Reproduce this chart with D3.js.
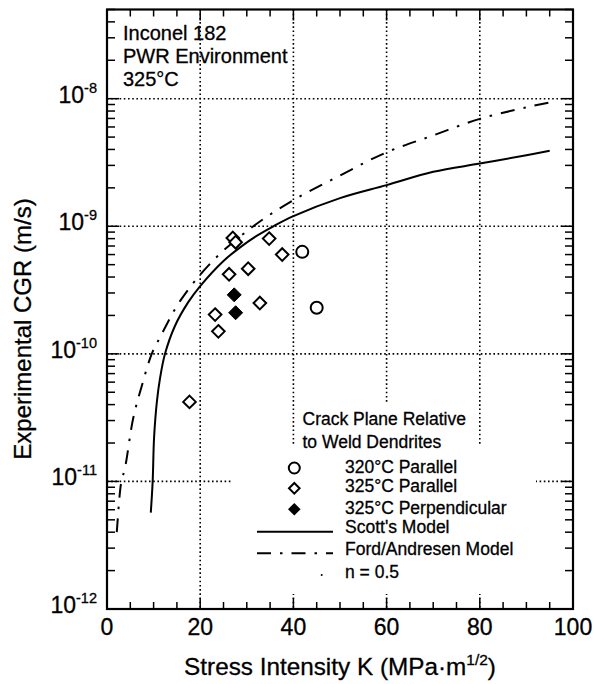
<!DOCTYPE html>
<html><head><meta charset="utf-8">
<script src="https://cdn.jsdelivr.net/npm/d3@7"></script>
<style>body{margin:0;background:#fff}svg{display:block}text{font-family:"Liberation Sans",Arial,Helvetica,sans-serif;fill:#000;stroke:#000;stroke-width:0.3px}</style>
</head><body><svg id="c" width="595" height="684"></svg>
<script>
// ---- data ----
const xTicks = [0, 20, 40, 60, 80, 100];
const xMinor = [5, 10, 15, 25, 30, 35, 45, 50, 55, 65, 70, 75, 85, 90, 95];
const xGrid = [20, 40, 60, 80];
const yDecades = [-12, -11, -10, -9, -8];
const yGrid = [1e-11, 1e-10, 1e-9, 1e-8];
const infoLines = ["Inconel 182", "PWR Environment", "325°C"];
const legendTitle = ["Crack Plane Relative", "to Weld Dendrites"];
const legendLabels = ["320°C Parallel", "325°C Parallel", "325°C Perpendicular", "Scott's Model", "Ford/Andresen Model", "n = 0.5"];

const par320K = [41.9, 45.0];
const par320CGR = [6.3e-10, 2.3e-10];
const par325K = [27.0, 27.6, 34.8, 37.6, 30.3, 26.2, 32.8, 23.2, 23.9, 17.7];
const par325CGR = [8.1e-10, 7.5e-10, 8.0e-10, 6.0e-10, 4.65e-10, 4.2e-10, 2.5e-10, 2.03e-10, 1.5e-10, 4.2e-11];
const perp325K = [27.3, 27.6];
const perp325CGR = [2.9e-10, 2.1e-10];

const scottK = [9.4, 9.8, 10.1, 10.7, 11.4, 12.45, 14.6, 17.4, 20, 25, 28.5, 32.1, 35.7, 40, 50, 60, 70, 80, 90, 95];
const scottCGR = [5.7e-12, 1.0e-11, 2.2e-11, 4.2e-11, 6.5e-11, 1.0e-10, 1.66e-10, 2.53e-10, 3.4e-10, 5.35e-10, 6.8e-10, 8.4e-10, 1.0e-9, 1.2e-9, 1.66e-9, 2.1e-9, 2.67e-9, 3.1e-9, 3.6e-9, 3.9e-9];
const fordK = [2.1, 2.8, 3.1, 3.9, 5.6, 7.4, 9.6, 11.4, 15.7, 22.8, 31.4, 40, 50, 60, 70, 80, 90, 95];
const fordCGR = [4.0e-12, 8.4e-12, 1.0e-11, 1.3e-11, 3.1e-11, 5.5e-11, 1.0e-10, 1.35e-10, 2.6e-10, 5.4e-10, 1.0e-9, 1.6e-9, 2.5e-9, 3.8e-9, 5.15e-9, 6.95e-9, 8.55e-9, 9.35e-9];

// ---- layout ----
const L = 107, R = 573, T = 9.5, B = 609;
const svg = d3.select("#c");
const x = d3.scaleLinear().domain([0, 100]).range([L, R]);
const y = d3.scaleLog().domain([1e-12, 5e-8]).range([B, T]);

// gridlines
const grid = svg.append("g").attr("stroke", "#000").attr("stroke-width", 1.6).attr("stroke-dasharray", "1.6,2.6");
grid.selectAll(".gx").data(xGrid).join("line")
  .attr("x1", d => x(d)).attr("x2", d => x(d)).attr("y1", T).attr("y2", B);
grid.selectAll(".gy").data(yGrid).join("line")
  .attr("x1", L).attr("x2", R).attr("y1", d => y(d)).attr("y2", d => y(d));

// legend background boxes (hide gridlines)
svg.append("rect").attr("x", 298).attr("y", 404).attr("width", 178).attr("height", 42).attr("fill", "#fff");
svg.append("rect").attr("x", 233).attr("y", 446).attr("width", 303).attr("height", 148).attr("fill", "#fff");

// ticks
const minorY = [];
yDecades.forEach(d => { for (let m = 2; m <= 9; m++) { const v = m * Math.pow(10, d); if (v <= 5e-8) minorY.push(v); } });
const majorY = yDecades.map(d => Math.pow(10, d));

const tk = svg.append("g").attr("stroke", "#000").attr("stroke-width", 1.5);
function vt(vals, len) {
  tk.append("g").selectAll("line").data(vals).join("line")
    .attr("x1", d => x(d)).attr("x2", d => x(d)).attr("y1", B).attr("y2", B - len);
  tk.append("g").selectAll("line").data(vals).join("line")
    .attr("x1", d => x(d)).attr("x2", d => x(d)).attr("y1", T).attr("y2", T + len);
}
vt(xMinor, 7); vt(xTicks, 11);
function ht(vals, len) {
  tk.append("g").selectAll("line").data(vals).join("line")
    .attr("y1", d => y(d)).attr("y2", d => y(d)).attr("x1", L).attr("x2", L + len);
  tk.append("g").selectAll("line").data(vals).join("line")
    .attr("y1", d => y(d)).attr("y2", d => y(d)).attr("x1", R).attr("x2", R - len);
}
ht(minorY, 8); ht(majorY, 12);

// frame
svg.append("rect").attr("x", L).attr("y", T).attr("width", R - L).attr("height", B - T)
  .attr("fill", "none").attr("stroke", "#000").attr("stroke-width", 2.2);

// tick labels
svg.append("g").selectAll("text").data(xTicks).join("text")
  .attr("x", d => x(d)).attr("y", 635).attr("text-anchor", "middle").attr("font-size", 23).text(d => d);
const yl = svg.append("g").selectAll("text").data(yDecades).join("text")
  .attr("x", 97).attr("y", d => y(Math.pow(10, d)) + 4).attr("text-anchor", "end").attr("font-size", 23);
yl.append("tspan").text("10");
yl.append("tspan").attr("font-size", 14.5).attr("dy", -10).text(d => "-" + (-d));

// axis titles
const xt = svg.append("text").attr("x", (L + R) / 2).attr("y", 675).attr("text-anchor", "middle").attr("font-size", 24.3);
xt.append("tspan").text("Stress Intensity K (MPa·m");
xt.append("tspan").attr("font-size", 15.5).attr("dy", -10).text("1/2");
xt.append("tspan").attr("dy", 10).text(")");
svg.append("text").attr("transform", "translate(31,329) rotate(-90)").attr("text-anchor", "middle")
  .attr("font-size", 24).text("Experimental CGR (m/s)");

// info text
svg.append("g").selectAll("text").data(infoLines).join("text")
  .attr("x", 123).attr("y", (d, i) => 40 + i * 23).attr("font-size", 20).text(d => d);

// curves
const line = d3.line().x(d => x(d[0])).y(d => y(d[1])).curve(d3.curveCatmullRom.alpha(0.5));
svg.append("path").datum(scottK.map((k, i) => [k, scottCGR[i]])).attr("d", line)
  .attr("fill", "none").attr("stroke", "#000").attr("stroke-width", 2);
const fordDash = "14,9,2.5,9";
svg.append("path").datum(fordK.map((k, i) => [k, fordCGR[i]])).attr("d", line)
  .attr("fill", "none").attr("stroke", "#000").attr("stroke-width", 2).attr("stroke-dasharray", fordDash);

// markers
const diamond = s => `M0,${-s}L${s},0L0,${s}L${-s},0Z`;
svg.append("g").selectAll("circle").data(par320K.map((k, i) => [k, par320CGR[i]])).join("circle")
  .attr("cx", d => x(d[0])).attr("cy", d => y(d[1])).attr("r", 6)
  .attr("fill", "#fff").attr("stroke", "#000").attr("stroke-width", 2);
svg.append("g").selectAll("path").data(par325K.map((k, i) => [k, par325CGR[i]])).join("path")
  .attr("transform", d => `translate(${x(d[0])},${y(d[1])})`).attr("d", diamond(6.3))
  .attr("fill", "#fff").attr("stroke", "#000").attr("stroke-width", 2);
svg.append("g").selectAll("path").data(perp325K.map((k, i) => [k, perp325CGR[i]])).join("path")
  .attr("transform", d => `translate(${x(d[0])},${y(d[1])})`).attr("d", diamond(7))
  .attr("fill", "#000").attr("stroke", "#000").attr("stroke-width", 1);

// legend
svg.append("g").selectAll("text").data(legendTitle).join("text")
  .attr("x", 302.5).attr("y", (d, i) => 425 + i * 23).attr("font-size", 17.5).text(d => d);
const lgY = [472.7, 491.7, 514, 532.7, 555, 578.3];
svg.append("g").selectAll("text").data(legendLabels).join("text")
  .attr("x", 345).attr("y", (d, i) => lgY[i]).attr("font-size", 17.5).text(d => d);
svg.append("circle").attr("cx", 294.3).attr("cy", 468).attr("r", 5.5)
  .attr("fill", "#fff").attr("stroke", "#000").attr("stroke-width", 2);
svg.append("path").attr("transform", "translate(294.3,488.3)").attr("d", diamond(5.3))
  .attr("fill", "#fff").attr("stroke", "#000").attr("stroke-width", 2);
svg.append("path").attr("transform", "translate(294.3,509.3)").attr("d", diamond(6.3))
  .attr("fill", "#000");
svg.append("line").attr("x1", 257).attr("x2", 333).attr("y1", 531.7).attr("y2", 531.7)
  .attr("stroke", "#000").attr("stroke-width", 2);
svg.append("line").attr("x1", 257).attr("x2", 333).attr("y1", 553.3).attr("y2", 553.3)
  .attr("stroke", "#000").attr("stroke-width", 2).attr("stroke-dasharray", fordDash);
svg.append("circle").attr("cx", 321.7).attr("cy", 575).attr("r", 1).attr("fill", "#000");
</script></body></html>
